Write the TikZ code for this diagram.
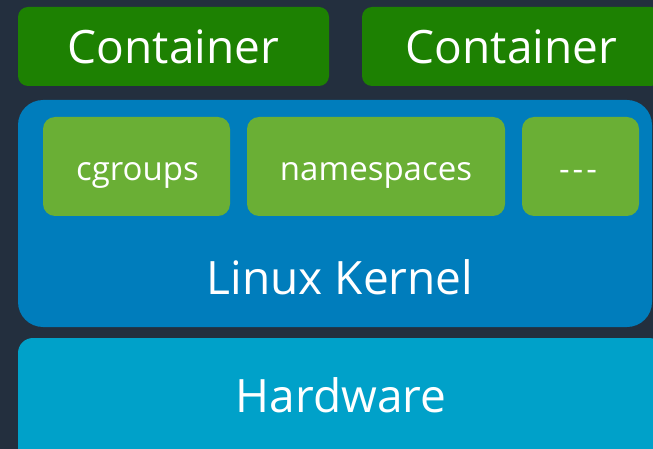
\documentclass[tikz,border=0pt]{standalone}
\usepackage{fontspec}
\setmainfont{Open Sans}
\definecolor{bgc}{HTML}{232F3E}
\definecolor{contc}{HTML}{1D8102}
\definecolor{kernc}{HTML}{007DBC}
\definecolor{subc}{HTML}{6AAF35}
\definecolor{hwc}{HTML}{00A1C9}
\tikzset{
  layerbox/.style={draw=none, rectangle, inner sep=0pt, text=white},
  bigtext/.style={font=\fontsize{46}{50}\selectfont},
  smalltext/.style={font=\fontsize{33}{36}\selectfont},
}
\begin{document}
\begin{tikzpicture}[x=1pt,y=-1pt]
\fill[bgc] (0,0) rectangle (653,449);
\useasboundingbox (0,0) rectangle (653,449);
\clip (0,0) rectangle (653,449);
% containers
\node[layerbox, fill=contc, rounded corners=10pt, minimum width=311pt, minimum height=79pt, bigtext] (c1) at (173.5,46.5) {Container};
\node[layerbox, fill=contc, rounded corners=10pt, minimum width=299pt, minimum height=79pt, bigtext] (c2) at (511.5,46.5) {Container};
% kernel
\node[layerbox, fill=kernc, rounded corners=25pt, minimum width=634pt, minimum height=227pt] (kern) at (335,213.5) {};
\node[text=white, bigtext, inner sep=0pt] (kernlabel) at (340,277) {Linux Kernel};
% subsystems
\node[layerbox, fill=subc, rounded corners=12pt, minimum width=187pt, minimum height=99pt] (cg) at (136.5,166.5) {};
\node[layerbox, fill=subc, rounded corners=12pt, minimum width=258pt, minimum height=99pt] (ns) at (376,166.5) {};
\node[layerbox, fill=subc, rounded corners=12pt, minimum width=117pt, minimum height=99pt] (etc) at (580.5,166.5) {};
\node[text=white, smalltext, inner sep=0pt, anchor=base] (cgl) at (137.5,181) {cgroups};
\node[text=white, smalltext, inner sep=0pt, anchor=base] (nsl) at (376,181) {namespaces};
\node[text=white, smalltext, inner sep=0pt, anchor=base] (etcl) at (578,181) {-\kern3pt-\kern3pt-};
% hardware
\node[layerbox, fill=hwc, rounded corners=15pt, minimum width=646pt, minimum height=130pt] (hw) at (341,403) {};
\node[text=white, bigtext, inner sep=0pt] (hwlabel) at (341,395) {Hardware};
\end{tikzpicture}
\end{document}
